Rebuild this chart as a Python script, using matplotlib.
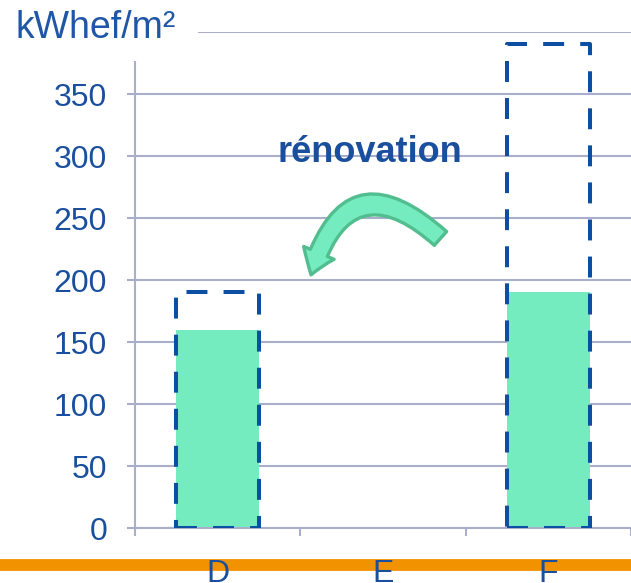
import matplotlib
matplotlib.use("Agg")
import matplotlib.pyplot as plt
from matplotlib.patches import Rectangle, FancyArrowPatch
from matplotlib.lines import Line2D

# Energy classes and consumption (kWhef/m²)
categories = ["D", "E", "F"]
after_values = [160, None, 190]      # filled bars
before_values = [190, None, 390]     # dashed outlines
y_ticks = [0, 50, 100, 150, 200, 250, 300, 350, 400]
y_tick_labels = ["0", "50", "100", "150", "200", "250", "300", "350", ""]
unit_label = "kWhef/m²"
arrow_label = "rénovation"

TEXT = "#1A4F9E"
DASH = "#0B4EA2"
GREEN = "#74ECC0"
GREEN_EDGE = "#52BD8E"
GRID = "#A9AECB"
ORANGE = "#F39200"

plt.rcParams["font.family"] = ["Liberation Sans", "DejaVu Sans"]

W, H = 631, 583
fig = plt.figure(figsize=(W / 100, H / 100), dpi=100)
ax = fig.add_axes([135 / W, 1 - 528 / H, 1 - 135 / W, (528 - 32) / H])
ax.set_facecolor("none")

x = list(range(len(categories)))
bar_w = 0.5
for xi, a, b in zip(x, after_values, before_values):
    if a is not None:
        ax.bar(xi, a, width=bar_w, color=GREEN, zorder=2)
    if b is not None:
        ax.add_patch(Rectangle((xi - bar_w / 2, 0), bar_w, b, fill=False,
                               edgecolor=DASH, linewidth=2.9,
                               linestyle=(0, (5.2, 4.0)), zorder=3,
                               joinstyle="round"))

ax.set_xlim(-0.5, 2.435)
ax.set_ylim(0, 400)

ax.set_yticks(y_ticks)
ax.set_yticklabels(y_tick_labels)
ax.yaxis.grid(True, color=GRID, linewidth=1.5, zorder=0)
ax.set_axisbelow(True)
ax.tick_params(axis="y", length=6, width=1.5, color=GRID, pad=14,
               labelsize=23, labelcolor=TEXT)

# Class boundaries carry the ticks, class names sit in between
ax.set_xticks([-0.5, 0.5, 1.5, 2.5])
ax.set_xticklabels([])
ax.set_xticks(x, minor=True)
ax.set_xticklabels(categories, minor=True)
ax.tick_params(axis="x", which="major", length=6, width=1.5, color=GRID)
ax.tick_params(axis="x", which="minor", length=0, pad=22,
               labelsize=23, labelcolor=TEXT)

for s in ["top", "right"]:
    ax.spines[s].set_visible(False)
ax.spines["left"].set_color(GRID)
ax.spines["left"].set_linewidth(1.5)
ax.spines["left"].set_bounds(0, 376)
ax.spines["bottom"].set_color(GRID)
ax.spines["bottom"].set_linewidth(1.5)

# Unit label over the top of the value axis
fig.patches.append(Rectangle((0, 1 - 61 / H), 198 / W, 61 / H,
                             transform=fig.transFigure, facecolor="white",
                             edgecolor="none", zorder=1))
fig.text(15 / W, 1 - 28 / H, unit_label, fontsize=27, color="#1F57A6",
         ha="left", va="center", zorder=2)

# Renovation arrow from class F down to class D
ax.add_patch(FancyArrowPatch((1.36, 232), (0.56, 202),
                             connectionstyle="arc3,rad=0.8",
                             arrowstyle="simple,head_width=1.7,head_length=1.2,tail_width=0.95",
                             mutation_scale=14, facecolor=GREEN,
                             edgecolor=GREEN_EDGE, linewidth=2.4, zorder=4))
ax.text(0.92, 303, arrow_label, fontsize=26, fontweight="bold", color=TEXT,
        ha="center", va="center", zorder=5)

# Orange rule along the bottom of the slide
fig.lines.append(Line2D([0, 1], [1 - 565 / H, 1 - 565 / H],
                        transform=fig.transFigure, color=ORANGE,
                        linewidth=8.5, zorder=-1, solid_capstyle="butt"))

fig.savefig("out.png", dpi=100)
